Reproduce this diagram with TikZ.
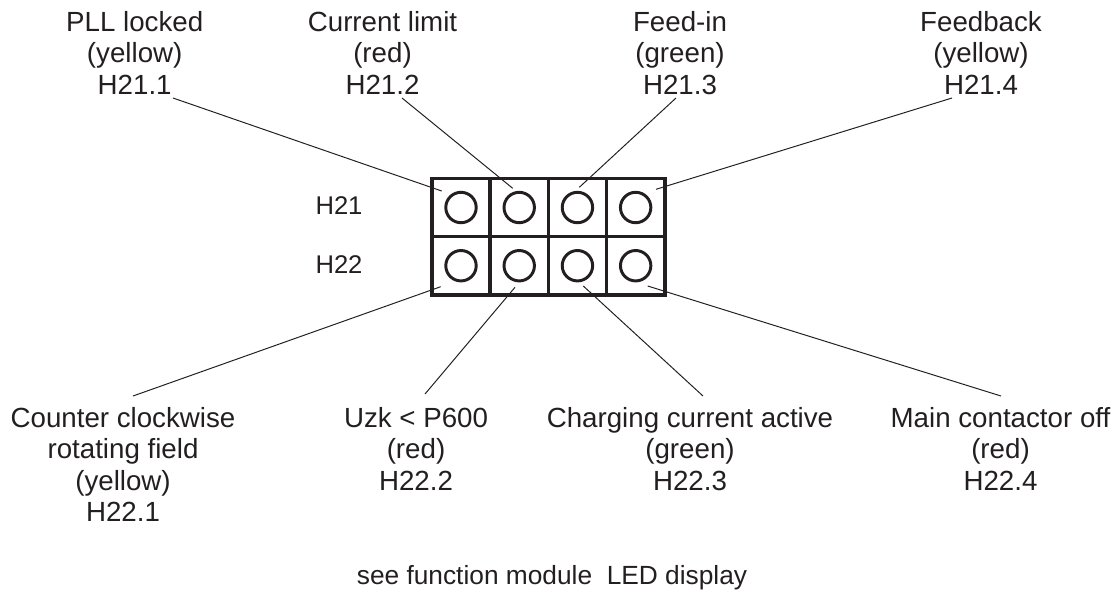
\documentclass[tikz,border=0pt]{standalone}
\usepackage{fontspec}
\setmainfont{Liberation Sans}
\usepackage{tikz}
\usetikzlibrary{positioning}
\definecolor{ink}{HTML}{231F20}
\tikzset{
    cell/.style={rectangle, draw=ink, line width=2.6pt, minimum size=1.455cm, inner sep=0pt, outer sep=0pt, path picture={\draw[ink, line width=2.1pt] (path picture bounding box.center) circle (0.38cm);}},
    lbl/.style={align=center, inner sep=0pt, anchor=north, text=ink, font=\fontsize{19.7}{22.5}\selectfont},
    rowlbl/.style={inner sep=0pt, text=ink, font=\fontsize{18.2}{22.5}\selectfont},
    leader/.style={draw=ink, line width=0.7pt}
}

\begin{document}
\begin{tikzpicture}[x=0.025cm, y=-0.025cm]
			\useasboundingbox (0,0) rectangle (1117,594);
			\node (c11) [cell] at (461,207.5) {};
			\node (c12) [cell, right=0pt of c11] {};
			\node (c13) [cell, right=0pt of c12] {};
			\node (c14) [cell, right=0pt of c13] {};
			\node (c21) [cell, below=0pt of c11] {};
			\node (c22) [cell, right=0pt of c21] {};
			\node (c23) [cell, right=0pt of c22] {};
			\node (c24) [cell, right=0pt of c23] {};
			\node (h21) [rowlbl] at (339,205.8) {H21};
			\node (h22) [rowlbl] at (339,264.8) {H22};

			\node (t1) [lbl] at (134.7,11) {PLL locked\\(yellow)\\H21.1};
			\node (t2) [lbl] at (382.5,11) {Current limit\\(red)\\H21.2};
			\node (t3) [lbl] at (680,11) {Feed-in\\(green)\\H21.3};
			\node (t4) [lbl] at (981,11) {Feedback\\(yellow)\\H21.4};
			\node (b1) [lbl] at (123,406.7) {Counter clockwise\\rotating field\\(yellow)\\H22.1};
			\node (b2) [lbl] at (416,406.7) {Uzk < P600\\(red)\\H22.2};
			\node (b3) [lbl] at (690,406.7) {Charging current active\\(green)\\H22.3};
			\node (b4) [lbl] at (1000.5,406.7) {Main contactor off\\(red)\\H22.4};
			\node (note) [rowlbl, anchor=base, font=\fontsize{18.7}{22.5}\selectfont] at (552,584) {see function module\ \ LED display};

			\coordinate (q11) at (173,98);
			\coordinate (q12) at (402,98);
			\coordinate (q13) at (676,98);
			\coordinate (q14) at (952,98);
			\coordinate (p11) at (441.7,191);
			\coordinate (p12) at (512.7,188.3);
			\coordinate (p13) at (579.3,187.3);
			\coordinate (p14) at (656,189.3);
			\coordinate (p21) at (440.7,286.7);
			\coordinate (p22) at (515,287.3);
			\coordinate (p23) at (583.3,286);
			\coordinate (p24) at (647.7,286);
			\coordinate (q21) at (133,396);
			\coordinate (q22) at (425,394);
			\coordinate (q23) at (703,396);
			\coordinate (q24) at (1001,396);

			\draw [leader] (q11) -- (p11);
			\draw [leader] (q12) -- (p12);
			\draw [leader] (q13) -- (p13);
			\draw [leader] (q14) -- (p14);
			\draw [leader] (p21) -- (q21);
			\draw [leader] (p22) -- (q22);
			\draw [leader] (p23) -- (q23);
			\draw [leader] (p24) -- (q24);
		\end{tikzpicture}
\end{document}
